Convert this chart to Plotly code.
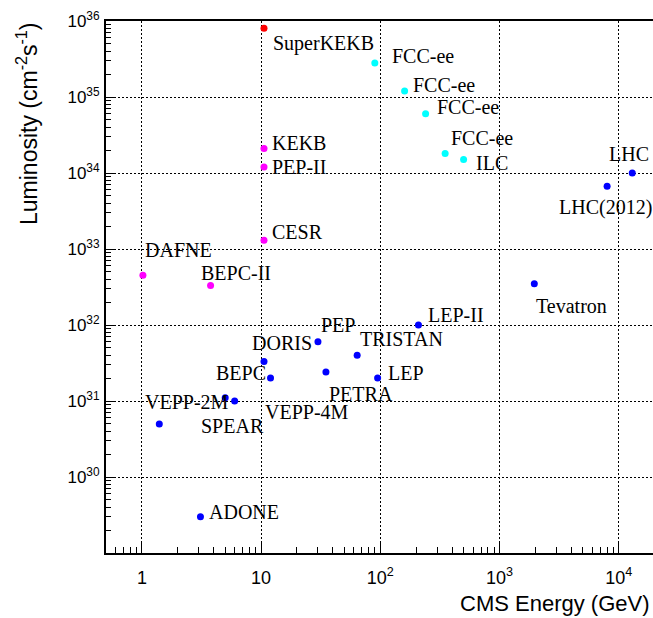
import numpy as np
import plotly.graph_objects as go

# ---------------- data ----------------
names = ["SuperKEKB",
         "KEKB", "PEP-II", "CESR", "DAFNE", "BEPC-II",
         "FCC-ee", "FCC-ee", "FCC-ee", "FCC-ee", "ILC",
         "LHC", "LHC(2012)", "Tevatron", "LEP-II", "TRISTAN", "LEP", "PETRA",
         "VEPP-4M", "PEP", "DORIS", "BEPC", "VEPP-2M", "SPEAR", "ADONE"]
energy = [10.58,
          10.58, 10.58, 10.58, 1.02, 3.77,
          90, 160, 240, 350, 500,
          13000, 8000, 1960, 209, 64, 95, 35,
          12, 30, 10.58, 5.0, 1.4, 6.0, 3.1]
lumi = [8e35,
        2.1e34, 1.2e34, 1.3e33, 4.5e32, 3.3e32,
        2.8e35, 1.2e35, 6e34, 1.8e34, 1.5e34,
        1e34, 6.7e33, 3.5e32, 1e32, 4e31, 2e31, 2.4e31,
        2e31, 6e31, 3.3e31, 1.1e31, 5e30, 1e31, 3e29]
group = ["red",
         "magenta", "magenta", "magenta", "magenta", "magenta",
         "cyan", "cyan", "cyan", "cyan", "cyan",
         "blue", "blue", "blue", "blue", "blue", "blue", "blue",
         "blue", "blue", "blue", "blue", "blue", "blue", "blue"]

x_tickvals = [1, 10, 100, 1000, 10000]
x_ticktext = ["1", "10", "10<sup>2</sup>", "10<sup>3</sup>", "10<sup>4</sup>"]
y_tickvals = [1e30, 1e31, 1e32, 1e33, 1e34, 1e35, 1e36]
y_ticktext = ["10<sup>30</sup>", "10<sup>31</sup>", "10<sup>32</sup>", "10<sup>33</sup>",
              "10<sup>34</sup>", "10<sup>35</sup>", "10<sup>36</sup>"]

# label offsets in pixels (dx right, dy down) relative to each point
label_dx = [7,
            6, 6, 6, 0, -12,
            15, 6, 9, 4, 10,
            -25, -50, 0, 8, 1, 8, 1,
            -8, 1, -14, -11, -16, -36, 7]
label_dy = [15,
            -6, 0, -8, -25, -13,
            -7, -6, -7, -16, 3,
            -19, 21, 22, -10, -16, -5, 22,
            34, -17, -19, -25, -22, 25, -5]

colors = {"red": "#ff0000", "magenta": "#ff00ff", "cyan": "#00ffff", "blue": "#0000ff"}

fig = go.Figure()
for g in ["blue", "magenta", "cyan", "red"]:
    idx = [i for i, gg in enumerate(group) if gg == g]
    fig.add_trace(go.Scatter(
        x=[energy[i] for i in idx], y=[lumi[i] for i in idx],
        mode="markers", marker=dict(color=colors[g], size=7, line=dict(width=0)),
        showlegend=False, hoverinfo="skip"))

for i, n in enumerate(names):
    fig.add_annotation(x=np.log10(energy[i]), y=np.log10(lumi[i]), xref="x", yref="y",
                       text=n, showarrow=False, xanchor="left", yanchor="middle",
                       xshift=label_dx[i], yshift=-label_dy[i],
                       font=dict(family="Liberation Serif", size=20, color="black"))

x_minor = [k * 10.0 ** d for d in range(-1, 5) for k in range(2, 10)]
y_minor = [k * 10.0 ** d for d in range(29, 36) for k in range(2, 10)]

fig.update_xaxes(type="log", range=[np.log10(0.5), 4.288],
                 tickmode="array", tickvals=x_tickvals, ticktext=x_ticktext,
                 ticks="inside", ticklen=12, tickwidth=1, tickcolor="black",
                 showline=True, linewidth=2, linecolor="black", mirror=True,
                 showgrid=True, gridcolor="black", griddash="2px,2px", gridwidth=1,
                 tickfont=dict(family="Liberation Sans", size=18, color="black"),
                 ticklabelstandoff=7,
                 minor=dict(tickmode="array", tickvals=x_minor, ticks="inside",
                            ticklen=6, tickcolor="black", tickwidth=1, showgrid=False),
                 zeroline=False)
fig.update_yaxes(type="log", range=[29, 36],
                 tickmode="array", tickvals=y_tickvals, ticktext=y_ticktext,
                 ticks="inside", ticklen=10, tickwidth=1, tickcolor="black",
                 showline=True, linewidth=2, linecolor="black", mirror=False,
                 showgrid=True, gridcolor="black", griddash="2px,2px", gridwidth=1,
                 tickfont=dict(family="Liberation Sans", size=17, color="black"),
                 ticklabelstandoff=1,
                 minor=dict(tickmode="array", tickvals=y_minor, ticks="inside",
                            ticklen=5, tickcolor="black", tickwidth=1, showgrid=False),
                 zeroline=False)

fig.add_annotation(xref="paper", yref="paper", x=1, y=0, xanchor="right", yanchor="middle",
                   xshift=-1, yshift=-50, showarrow=False,
                   text="CMS Energy (GeV)",
                   font=dict(family="Liberation Sans", size=22, color="black"))
fig.add_annotation(xref="paper", yref="paper", x=0, y=1, xanchor="center", yanchor="middle",
                   xshift=-79, yshift=-103, showarrow=False, textangle=-90,
                   text="Luminosity (cm<sup>-2</sup>s<sup>-1</sup>)",
                   font=dict(family="Liberation Sans", size=23, color="black"))

fig.update_layout(width=653, height=618,
                  margin=dict(l=106, r=0, t=21, b=65),
                  paper_bgcolor="white", plot_bgcolor="white",
                  showlegend=False)

fig.write_html("out.html", config={"displayModeBar": False},
               post_script="document.body.style.margin='0px';")
